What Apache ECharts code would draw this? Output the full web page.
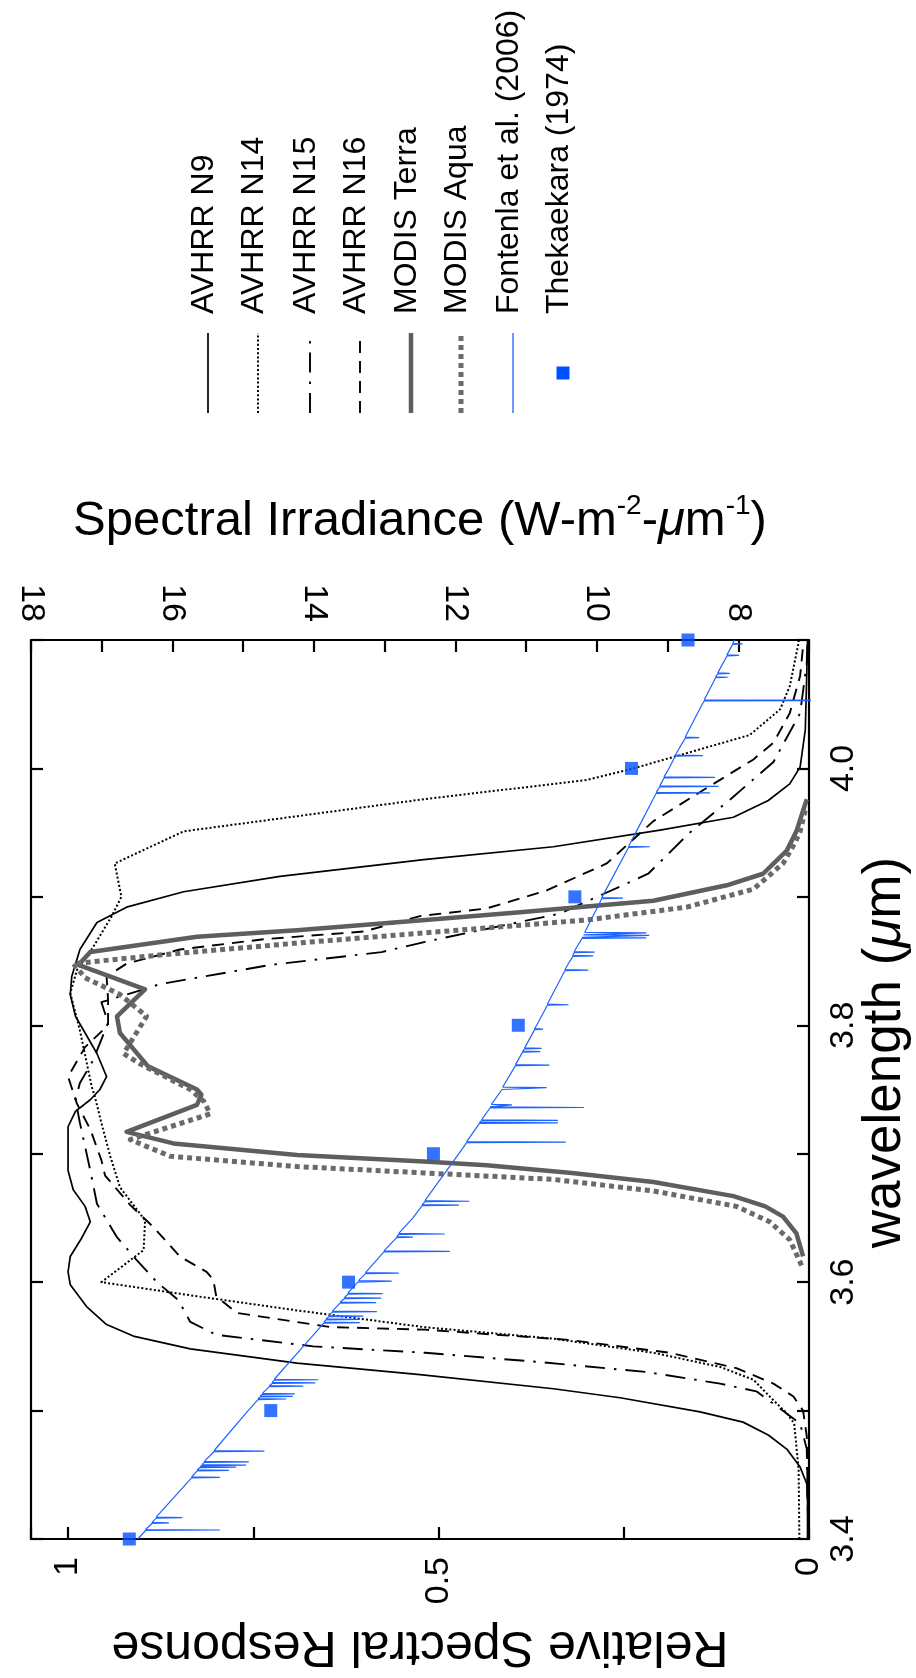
<!DOCTYPE html>
<html><head><meta charset="utf-8">
<script src="https://cdn.jsdelivr.net/npm/echarts@6/dist/echarts.min.js"></script>
<style>html,body{margin:0;padding:0;background:#fff;}#c{width:916px;height:1678px;}</style>
</head><body><div id="c"></div>
<script>
const FONT = '"Liberation Sans", Arial, Helvetica, sans-serif';

// [wavelength (um), relative response]
const avhrrN9 = [[3.400,0.002],[3.430,0.002],[3.443,0.003],[3.456,0.012],[3.470,0.030],[3.481,0.055],[3.491,0.089],[3.499,0.147],[3.510,0.255],[3.517,0.345],[3.528,0.525],[3.537,0.691],[3.548,0.835],[3.558,0.912],[3.567,0.948],[3.581,0.975],[3.598,0.997],[3.608,1.000],[3.620,0.997],[3.634,0.982],[3.647,0.970],[3.659,0.977],[3.672,0.993],[3.687,1.000],[3.721,1.000],[3.733,0.990],[3.742,0.970],[3.750,0.957],[3.760,0.948],[3.778,0.961],[3.807,0.990],[3.824,0.997],[3.838,0.995],[3.859,0.984],[3.880,0.961],[3.892,0.921],[3.904,0.844],[3.916,0.714],[3.929,0.520],[3.939,0.345],[3.952,0.201],[3.962,0.102],[3.975,0.055],[3.988,0.026],[4.001,0.012],[4.030,0.005],[4.074,0.003],[4.100,0.002]];
const avhrrN14 = [[3.400,0.013],[3.454,0.014],[3.490,0.020],[3.498,0.030],[3.508,0.048],[3.524,0.075],[3.534,0.120],[3.545,0.210],[3.556,0.345],[3.565,0.520],[3.578,0.691],[3.589,0.826],[3.600,0.955],[3.625,0.898],[3.648,0.896],[3.674,0.930],[3.698,0.943],[3.724,0.955],[3.745,0.964],[3.752,0.968],[3.796,0.984],[3.825,0.997],[3.843,0.988],[3.861,0.966],[3.885,0.941],[3.900,0.928],[3.926,0.937],[3.951,0.844],[3.976,0.520],[3.991,0.300],[4.000,0.237],[4.026,0.080],[4.046,0.039],[4.064,0.026],[4.098,0.014],[4.100,0.014]];
const avhrrN15 = [[3.400,0.001],[3.470,0.003],[3.490,0.012],[3.515,0.071],[3.521,0.120],[3.530,0.219],[3.538,0.368],[3.545,0.518],[3.550,0.669],[3.559,0.800],[3.569,0.835],[3.586,0.851],[3.600,0.880],[3.617,0.907],[3.635,0.934],[3.661,0.961],[3.687,0.970],[3.724,0.984],[3.742,0.990],[3.755,0.984],[3.773,0.966],[3.802,0.946],[3.818,0.955],[3.828,0.898],[3.832,0.876],[3.847,0.727],[3.857,0.577],[3.865,0.518],[3.887,0.336],[3.918,0.217],[3.950,0.161],[3.977,0.104],[4.005,0.048],[4.043,0.012],[4.082,0.003],[4.100,0.002]];
const avhrrN16 = [[3.400,0.001],[3.480,0.003],[3.500,0.008],[3.511,0.021],[3.521,0.048],[3.533,0.098],[3.545,0.188],[3.555,0.323],[3.563,0.518],[3.565,0.646],[3.576,0.772],[3.589,0.800],[3.602,0.804],[3.608,0.813],[3.620,0.849],[3.643,0.885],[3.660,0.916],[3.683,0.950],[3.695,0.955],[3.719,0.970],[3.739,0.988],[3.760,1.000],[3.783,0.977],[3.800,0.946],[3.820,0.946],[3.838,0.948],[3.848,0.921],[3.859,0.849],[3.867,0.736],[3.873,0.601],[3.885,0.525],[3.891,0.435],[3.905,0.354],[3.926,0.273],[3.959,0.210],[3.983,0.143],[4.007,0.075],[4.020,0.048],[4.043,0.026],[4.072,0.012],[4.095,0.008]];
const modisTerra = [[3.620,0.008],[3.638,0.017],[3.651,0.035],[3.659,0.059],[3.667,0.102],[3.678,0.210],[3.685,0.320],[3.691,0.435],[3.694,0.520],[3.699,0.691],[3.708,0.858],[3.717,0.921],[3.738,0.826],[3.746,0.820],[3.750,0.826],[3.768,0.892],[3.794,0.930],[3.807,0.934],[3.828,0.896],[3.847,0.986],[3.857,0.970],[3.869,0.826],[3.874,0.691],[3.882,0.518],[3.888,0.390],[3.897,0.210],[3.909,0.111],[3.918,0.062],[3.936,0.030],[3.951,0.017],[3.976,0.003]];
const modisAqua = [[3.613,0.010],[3.633,0.026],[3.647,0.053],[3.659,0.098],[3.671,0.210],[3.680,0.345],[3.685,0.518],[3.690,0.691],[3.698,0.862],[3.711,0.916],[3.731,0.808],[3.741,0.817],[3.750,0.835],[3.770,0.903],[3.778,0.925],[3.807,0.894],[3.824,0.930],[3.837,0.977],[3.848,0.993],[3.855,0.871],[3.864,0.691],[3.872,0.518],[3.882,0.300],[3.892,0.165],[3.906,0.075],[3.926,0.035],[3.942,0.019],[3.951,0.012],[3.970,0.004]];

// Fontenla et al. (2006): continuum [wavelength, irradiance] and lines [wavelength, continuum, line depth]
const fontenlaContinuum = [[3.40,16.49],[3.45,15.70],[3.50,14.93],[3.55,14.15],[3.60,13.38],[3.65,12.60],[3.70,11.95],[3.75,11.34],[3.80,10.85],[3.85,10.38],[3.90,9.92],[3.95,9.45],[4.00,8.98],[4.05,8.51],[4.10,8.05]];
const fontenlaLines = [[3.407,16.38,15.33],[3.4125,16.29,16.05],[3.4166,16.23,15.86],[3.448,15.73,15.33],[3.4535,15.65,15.20],[3.456,15.61,15.10],[3.4575,15.58,14.96],[3.460,15.55,14.92],[3.4685,15.41,14.70],[3.509,14.79,14.39],[3.511,14.76,14.30],[3.513,14.73,14.27],[3.519,14.63,14.15],[3.5215,14.59,13.98],[3.524,14.56,13.94],[3.5685,13.86,13.35],[3.571,13.83,13.35],[3.5735,13.79,13.30],[3.577,13.74,13.11],[3.584,13.63,13.12],[3.5875,13.57,13.05],[3.591,13.52,13.03],[3.6008,13.37,12.90],[3.607,13.27,12.80],[3.624,13.01,12.08],[3.635,12.83,12.60],[3.6375,12.80,12.15],[3.660,12.47,11.95],[3.663,12.43,11.80],[3.709,11.84,10.44],[3.724,11.66,10.55],[3.726,11.63,10.55],[3.736,11.51,10.18],[3.738,11.49,11.20],[3.7515,11.33,10.71],[3.769,11.15,10.67],[3.7795,11.05,10.80],[3.782,11.02,10.78],[3.797,10.88,10.76],[3.816,10.70,10.40],[3.843,10.45,10.12],[3.854,10.34,10.05],[3.857,10.32,10.03],[3.868,10.21,9.30],[3.870,10.19,9.26],[3.872,10.17,9.30],[3.899,9.93,9.63],[3.939,9.55,9.25],[3.981,9.16,8.40],[3.986,9.11,8.28],[3.993,9.05,8.33],[4.010,8.89,8.50],[4.024,8.75,8.55],[4.053,8.48,4.00],[4.071,8.32,8.15],[4.074,8.29,8.12],[4.088,8.16,7.99],[4.097,8.08,7.94]];
// Thekaekara (1974) [wavelength, irradiance]
const thekaekara = [[3.4,16.61],[3.5,14.61],[3.6,13.51],[3.7,12.31],[3.8,11.11],[3.9,10.31],[4.0,9.51],[4.1,8.71]];

const responseLabels = [0, 0.5, 1];
const irradianceLabels = [8, 10, 12, 14, 16, 18];
const wavelengthLabels = [3.4, 3.6, 3.8, 4.0];

const near = (v, list) => list.find(t => Math.abs(t - v) < 1e-6);

const fontenlaPts = fontenlaContinuum.map(p => [p[0], p[1]]);
fontenlaLines.forEach(([w, c, d]) => { fontenlaPts.push([w - 0.0004, c], [w, d], [w + 0.0004, c]); });
fontenlaPts.sort((a, b) => a[0] - b[0]);

const swap = arr => arr.map(p => [p[1], p[0]]);

const styles = {
  n9: {color:'#000', width:1.7, type:'solid'},
  n14: {color:'#000', width:2, type:[2,2.2]},
  n15: {color:'#000', width:1.9, type:[20,9,2.5,9]},
  n16: {color:'#000', width:1.9, type:[12,8]},
  terra: {color:'#5e5e5e', width:4.5, type:'solid'},
  aqua: {color:'#6a6a6a', width:5, type:[5,4]}
};
function lineSeries(name, data, st) {
  return {name, type:'line', xAxisIndex:0, yAxisIndex:0, data: swap(data), showSymbol:false, symbol:'none',
    lineStyle:{color:st.color, width:st.width, type:st.type, cap:'butt', join:'round'}, z:3, silent:true};
}

const axisLineStyle = {color:'#000', width:2.2};
const tickStyle = {show:true, inside:true, length:12, lineStyle:{color:'#000', width:2.2}};
const labelBase = {color:'#000', fontSize:34, fontFamily:FONT, rotate:90, margin:18, showMinLabel:true, showMaxLabel:true};

const chart = echarts.init(document.getElementById('c'), null, {renderer:'canvas'});

const legendItems = [
  {label:'AVHRR N9', x:208, st:styles.n9},
  {label:'AVHRR N14', x:258, st:styles.n14},
  {label:'AVHRR N15', x:310, st:styles.n15},
  {label:'AVHRR N16', x:360, st:styles.n16},
  {label:'MODIS Terra', x:411, st:styles.terra},
  {label:'MODIS Aqua', x:461, st:styles.aqua},
  {label:'Fontenla et al. (2006)', x:513, st:{color:'#1f63ff', width:1.3, type:'solid'}},
  {label:'Thekaekara (1974)', x:563, st:null}
];
const graphics = [];
legendItems.forEach(it => {
  if (it.st) {
    graphics.push({type:'line', shape:{x1:it.x, y1:413, x2:it.x, y2:333},
      style:{stroke:it.st.color, lineWidth:it.st.width, lineDash: it.st.type === 'solid' ? null : it.st.type, lineCap:'butt'}});
  } else {
    graphics.push({type:'rect', shape:{x:it.x - 6.5, y:366.5, width:13, height:13}, style:{fill:'#0050ff'}});
  }
  graphics.push({type:'text', x:it.x - 4, y:314, rotation:Math.PI/2,
    style:{text:it.label, font:'32px ' + FONT, fill:'#000', textAlign:'left', textVerticalAlign:'middle'}});
});

chart.setOption({
  animation:false,
  backgroundColor:'#fff',
  grid:{left:31, right:107, top:640, bottom:139, containLabel:false, outerBoundsMode:'none'},
  xAxis:[
    {type:'value', position:'bottom', min:0, max:1.05, interval:0.25, inverse:true,
     axisLine:{show:true, onZero:false, lineStyle:axisLineStyle}, axisTick:tickStyle, splitLine:{show:false},
     axisLabel:Object.assign({}, labelBase, {formatter: v => { const t = near(v, responseLabels); return t === undefined ? '' : String(t); }}),
     name:'Relative Spectral Response', nameLocation:'middle', nameGap:82, nameRotate:180, nameMoveOverlap:false,
     nameTextStyle:{fontSize:50, fontFamily:FONT, color:'#000'}},
    {type:'value', position:'top', min:7, max:18, interval:1, inverse:true,
     axisLine:{show:true, onZero:false, lineStyle:axisLineStyle}, axisTick:tickStyle, splitLine:{show:false},
     axisLabel:Object.assign({}, labelBase, {formatter: v => { const t = near(v, irradianceLabels); return t === undefined ? '' : String(t); }}),
     name:'{n|Spectral Irradiance (W-m}{s|-2}{n|-}{i|μ}{n|m}{s|-1}{n|)}', nameLocation:'middle', nameGap:90, nameMoveOverlap:false,
     nameTextStyle:{fontSize:49, fontFamily:FONT, color:'#000', rich:{
       n:{fontSize:49, fontFamily:FONT, color:'#000', lineHeight:58},
       i:{fontSize:49, fontFamily:FONT, color:'#000', fontStyle:'italic', lineHeight:58},
       s:{fontSize:28, fontFamily:FONT, color:'#000', lineHeight:30, verticalAlign:'top'}}}}
  ],
  yAxis:[
    {type:'value', position:'right', min:3.4, max:4.1, interval:0.1,
     axisLine:{show:true, onZero:false, lineStyle:axisLineStyle}, axisTick:tickStyle, splitLine:{show:false},
     axisLabel:Object.assign({}, labelBase, {formatter: v => { const t = near(v, wavelengthLabels); return t === undefined ? '' : t.toFixed(1); }}),
     name:'{n|wavelength (}{i|μ}{n|m)}', nameLocation:'middle', nameGap:50, nameRotate:90, nameMoveOverlap:false,
     nameTextStyle:{fontSize:53, fontFamily:FONT, color:'#000', padding:[0,0,0,74], rich:{
       n:{fontSize:53, fontFamily:FONT, color:'#000'},
       i:{fontSize:53, fontFamily:FONT, color:'#000', fontStyle:'italic'}}}},
    {type:'value', position:'left', min:3.4, max:4.1, interval:0.1,
     axisLine:{show:true, onZero:false, lineStyle:axisLineStyle}, axisTick:tickStyle, splitLine:{show:false},
     axisLabel:{show:false}}
  ],
  graphic: graphics,
  series:[
    lineSeries('AVHRR N9', avhrrN9, styles.n9),
    lineSeries('AVHRR N14', avhrrN14, styles.n14),
    lineSeries('AVHRR N15', avhrrN15, styles.n15),
    lineSeries('AVHRR N16', avhrrN16, styles.n16),
    lineSeries('MODIS Terra', modisTerra, styles.terra),
    lineSeries('MODIS Aqua', modisAqua, styles.aqua),
    {name:'Fontenla et al. (2006)', type:'line', xAxisIndex:1, yAxisIndex:0, data: swap(fontenlaPts),
     showSymbol:false, symbol:'none', lineStyle:{color:'#1f63ff', width:1.2}, z:4, silent:true},
    {name:'Thekaekara (1974)', type:'scatter', xAxisIndex:1, yAxisIndex:0, data: swap(thekaekara),
     symbol:'rect', symbolSize:13, itemStyle:{color:'#0050ff'}, z:5, silent:true}
  ]
});
</script>
</body></html>
